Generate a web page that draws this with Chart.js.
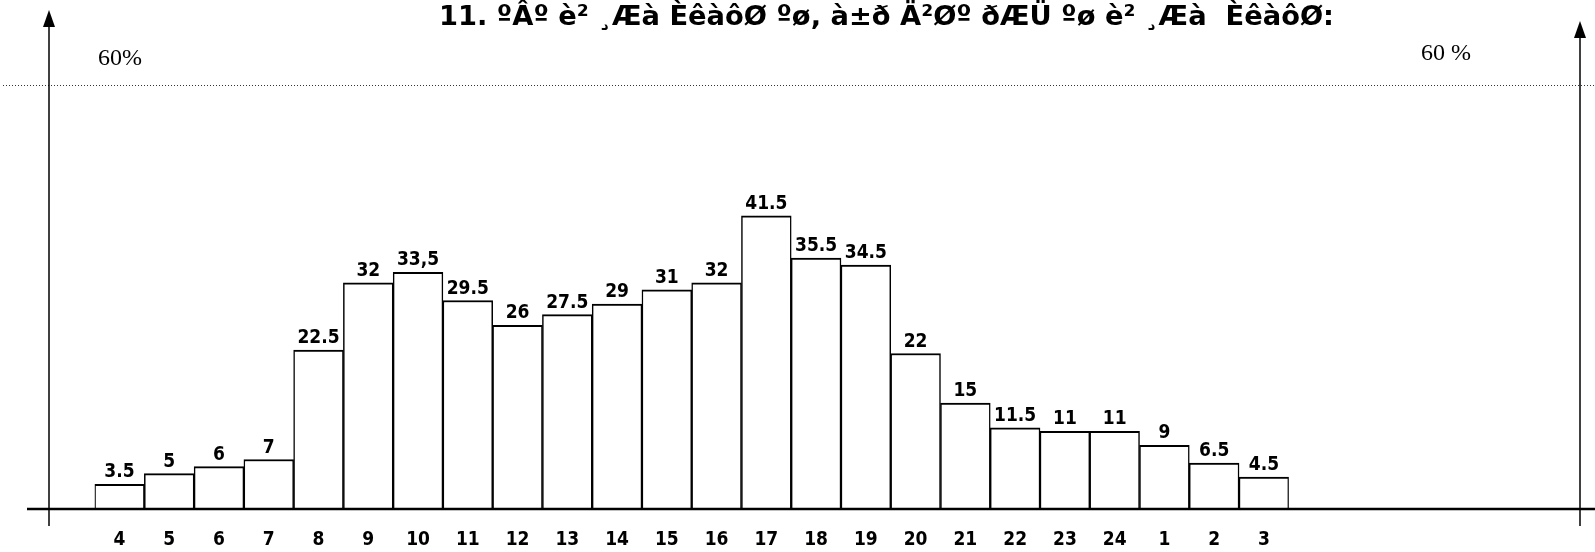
<!DOCTYPE html>
<html><head><meta charset="utf-8">
<script src="https://cdn.jsdelivr.net/npm/chart.js@4/dist/chart.umd.min.js"></script>
<style>html,body{margin:0;padding:0;background:#fff;overflow:hidden}#wrap{width:1595px;height:552px}</style>
</head><body><div id="wrap"><canvas id="c" width="1595" height="552"></canvas></div>
<script>
const TITLE = "11. ºÂº è² ¸Æà ÈêàôØ ºø, à±ð Ä²Øº ðÆÜ ºø è² ¸Æà  ÈêàôØ:";
const categories = ["4","5","6","7","8","9","10","11","12","13","14","15","16","17","18","19","20","21","22","23","24","1","2","3"];
const values = [3.5,5,6,7,22.5,32,33.5,29.5,26,27.5,29,31,32,41.5,35.5,34.5,22,15,11.5,11,11,9,6.5,4.5];
const valueLabels = ["3.5","5","6","7","22.5","32","33,5","29.5","26","27.5","29","31","32","41.5","35.5","34.5","22","15","11.5","11","11","9","6.5","4.5"];
const yMin = 0, yMax = 60;
const refLineValue = 60;
const refLabelLeft = "60%";
const refLabelRight = "60 %";

const LABEL_FONT = '"DejaVu Sans Condensed", "DejaVu Sans", sans-serif';

function arrowAxis(ctx, x, tip, bottom){
  ctx.beginPath(); ctx.moveTo(x, tip+14); ctx.lineTo(x, bottom); ctx.stroke();
  ctx.beginPath(); ctx.moveTo(x, tip); ctx.lineTo(x-6, tip+17); ctx.lineTo(x+6, tip+17); ctx.closePath(); ctx.fill();
}

const decor = {
  id: 'decor',
  beforeDatasetsDraw(chart){
    const ctx = chart.ctx, ys = chart.scales.y;
    const yRef = Math.round(ys.getPixelForValue(refLineValue)) + 0.5;
    ctx.save();
    ctx.strokeStyle = '#333'; ctx.lineWidth = 1; ctx.setLineDash([1,2]);
    ctx.beginPath(); ctx.moveTo(3, yRef); ctx.lineTo(chart.width, yRef); ctx.stroke();
    ctx.setLineDash([]);
    ctx.fillStyle = '#000';
    ctx.font = '24px "Liberation Serif"';
    ctx.textBaseline = 'middle'; ctx.textAlign = 'left';
    ctx.fillText(refLabelLeft, 98, yRef - 27);
    ctx.fillText(refLabelRight, 1421, yRef - 32);
    ctx.font = 'bold 27.3px "DejaVu Sans"';
    ctx.fillText(TITLE, 439, 18);
    ctx.restore();
  },
  afterDatasetsDraw(chart){
    const ctx = chart.ctx, ys = chart.scales.y;
    const y0 = ys.getPixelForValue(0);
    ctx.save();
    ctx.strokeStyle = '#000'; ctx.fillStyle = '#000';
    ctx.lineWidth = 2.5;
    ctx.beginPath(); ctx.moveTo(27, y0); ctx.lineTo(chart.width, y0); ctx.stroke();
    ctx.lineWidth = 1.5;
    arrowAxis(ctx, 49, 10, 526);
    arrowAxis(ctx, 1580, 21, 526);
    const meta = chart.getDatasetMeta(0);
    ctx.font = 'bold 19px ' + LABEL_FONT;
    ctx.textAlign = 'center'; ctx.textBaseline = 'alphabetic';
    meta.data.forEach((el, i) => {
      ctx.fillText(valueLabels[i], el.x, el.y - 7);
    });
    ctx.restore();
  }
};

new Chart(document.getElementById('c'), {
  type: 'bar',
  data: {
    labels: categories,
    datasets: [{
      data: values,
      backgroundColor: '#fff',
      borderColor: '#000',
      borderWidth: {top: 2, left: 1.5, right: 1.5, bottom: 0},
      borderSkipped: false,
      barPercentage: 1,
      categoryPercentage: 1
    }]
  },
  options: {
    responsive: false,
    devicePixelRatio: 1,
    animation: false,
    layout: {padding: {left: 94.6, right: 306.2, top: 85, bottom: 0}},
    plugins: {legend: {display: false}, tooltip: {enabled: false}, title: {display: false}},
    scales: {
      x: {
        type: 'category',
        grid: {display: false, drawTicks: false},
        border: {display: false},
        ticks: {color: '#000', font: {family: LABEL_FONT, weight: 'bold', size: 19}, padding: 20, maxRotation: 0, autoSkip: false},
        afterFit(s){ s.height = 43; }
      },
      y: {display: false, min: yMin, max: yMax}
    }
  },
  plugins: [decor]
});
</script>
</body></html>
